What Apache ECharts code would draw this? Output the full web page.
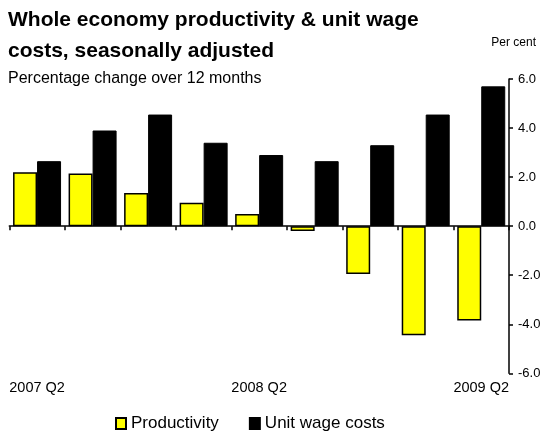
<!DOCTYPE html>
<html>
<head>
<meta charset="utf-8">
<script src="https://cdn.jsdelivr.net/npm/echarts@6/dist/echarts.min.js"></script>
<style>
html,body{margin:0;padding:0;background:#fff;}
#c{width:547px;height:431px;}
</style>
</head>
<body>
<div id="c"></div>
<script>
var categories = ['2007 Q2','2007 Q3','2007 Q4','2008 Q1','2008 Q2','2008 Q3','2008 Q4','2009 Q1','2009 Q2'];
var productivity = [2.2, 2.15, 1.35, 0.95, 0.5, -0.2, -1.95, -4.45, -3.85];
var unitWageCosts = [2.65, 3.9, 4.55, 3.4, 2.9, 2.65, 3.3, 4.55, 5.7];
var yTicks = {min: -6, max: 6, interval: 2};

var font = 'Arial, "Liberation Sans", sans-serif';
var chart = echarts.init(document.getElementById('c'));
chart.setOption({
  animation: false,
  backgroundColor: '#fff',
  textStyle: {fontFamily: font, color: '#000'},
  title: [
    {text: 'Whole economy productivity & unit wage\ncosts, seasonally adjusted', left: 8, top: 5, padding: 0,
     textStyle: {fontFamily: font, fontSize: 21, fontWeight: 'bold', color: '#000', lineHeight: 31}},
    {text: 'Percentage change over 12 months', left: 8, top: 71, padding: 0,
     textStyle: {fontFamily: font, fontSize: 16, fontWeight: 'normal', color: '#000'}},
    {text: 'Per cent', right: 11, top: 37, padding: 0,
     textStyle: {fontFamily: font, fontSize: 12, fontWeight: 'normal', color: '#000'}}
  ],
  legend: {
    left: 110, top: 410,
    icon: 'rect',
    itemWidth: 10, itemHeight: 11, itemGap: 30,
    textStyle: {fontFamily: font, fontSize: 17, color: '#000'},
    data: ['Productivity', 'Unit wage costs']
  },
  grid: {left: 9.3, right: 38, top: 79, bottom: 57.7, containLabel: false},
  xAxis: [
    {type: 'category', data: categories, position: 'bottom',
     axisLine: {onZero: true, lineStyle: {color: '#000', width: 1.5}},
     axisTick: {show: true, interval: 0, length: 4, lineStyle: {color: '#000', width: 1.5}},
     axisLabel: {show: false}, splitLine: {show: false}},
    {type: 'category', data: categories, position: 'bottom',
     axisLine: {show: false, onZero: false}, axisTick: {show: false},
     axisLabel: {show: true, interval: 3, margin: 7, fontFamily: font, fontSize: 14.5, color: '#000'},
     splitLine: {show: false}}
  ],
  yAxis: {
    type: 'value', position: 'right', min: yTicks.min, max: yTicks.max, interval: yTicks.interval,
    axisLine: {show: true, lineStyle: {color: '#000', width: 1.5}},
    axisTick: {show: true, length: 4, lineStyle: {color: '#000', width: 1.5}},
    axisLabel: {margin: 9, fontFamily: font, fontSize: 13, color: '#000',
                formatter: function (v) { return v.toFixed(1); }},
    splitLine: {show: false}
  },
  series: [
    {name: 'Productivity', type: 'bar', xAxisIndex: 0, data: productivity,
     barWidth: 24, barGap: '0%',
     itemStyle: {color: '#ffff00', borderColor: '#000', borderWidth: 1.5}},
    {name: 'Unit wage costs', type: 'bar', xAxisIndex: 0, data: unitWageCosts,
     barWidth: 24, barGap: '0%',
     itemStyle: {color: '#000', borderColor: '#000', borderWidth: 1}}
  ]
});
</script>
</body>
</html>
